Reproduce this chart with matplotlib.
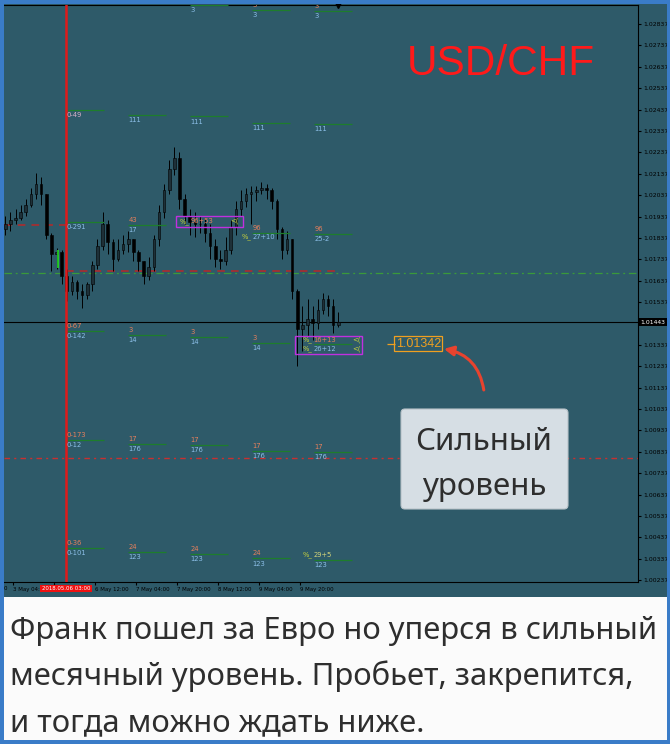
import matplotlib
matplotlib.use("Agg")
import matplotlib.pyplot as plt
import matplotlib.patches as mpatches
from matplotlib.transforms import blended_transform_factory

# ---------------- data ----------------
# 2-hour bars, x = hour index from the left edge of the chart
bar_x = list(range(1, 132, 2))
first_open = 1.0188
closes = [1.0190, 1.0192, 1.0193, 1.0196, 1.0199, 1.0204, 1.0209, 1.0204, 1.0185, 1.0176,
          1.0177, 1.0166, 1.0159, 1.0163, 1.0159, 1.0157, 1.0162, 1.0171, 1.0180, 1.0190,
          1.0182, 1.0174, 1.0178, 1.0181, 1.0183, 1.0177, 1.0173, 1.0166, 1.0170, 1.0183,
          1.0196, 1.0206, 1.0216, 1.0221, 1.0202, 1.0194, 1.0191, 1.0190, 1.0190, 1.0186,
          1.0180, 1.0174, 1.0173, 1.0178, 1.0189, 1.0197, 1.0201, 1.0204, 1.0205, 1.0206,
          1.0207, 1.0206, 1.0201, 1.0188, 1.0178, 1.0183, 1.0159, 1.0141, 1.0143, 1.0146,
          1.0144, 1.0150, 1.0155, 1.0152, 1.0143, 1.01443]
highs = [1.0194, 1.0196, 1.0197, 1.0199, 1.0202, 1.0207, 1.0214, 1.0212, 1.0204, 1.0186,
         1.0179, 1.0178, 1.0169, 1.0166, 1.0164, 1.0162, 1.0163, 1.0173, 1.0183, 1.0196,
         1.0192, 1.0183, 1.0183, 1.0185, 1.0187, 1.0183, 1.0178, 1.0173, 1.0175, 1.0185,
         1.0199, 1.0209, 1.0220, 1.0226, 1.0224, 1.0204, 1.0197, 1.0196, 1.0194, 1.0193,
         1.0190, 1.0183, 1.0178, 1.0184, 1.0192, 1.0201, 1.0206, 1.0207, 1.0208, 1.0208,
         1.0210, 1.0209, 1.0207, 1.0202, 1.0189, 1.0187, 1.0183, 1.0160, 1.0152, 1.0155,
         1.0152, 1.0155, 1.0158, 1.0157, 1.0155, 1.0149]
lows = [1.0185, 1.0187, 1.0190, 1.0192, 1.0194, 1.0198, 1.0202, 1.0199, 1.0183, 1.0168,
        1.0169, 1.0162, 1.0154, 1.0157, 1.0155, 1.0151, 1.0155, 1.0159, 1.0169, 1.0178,
        1.0176, 1.0168, 1.0173, 1.0176, 1.0177, 1.0173, 1.0168, 1.0162, 1.0164, 1.0168,
        1.0180, 1.0193, 1.0204, 1.0213, 1.0197, 1.0190, 1.0185, 1.0184, 1.0186, 1.0182,
        1.0174, 1.0170, 1.0169, 1.0171, 1.0176, 1.0185, 1.0194, 1.0198, 1.0190, 1.0201,
        1.0204, 1.0202, 1.0197, 1.0183, 1.0174, 1.0176, 1.0155, 1.0124, 1.0131, 1.0138,
        1.0136, 1.0141, 1.0148, 1.0147, 1.0139, 1.0142]

current_price = 1.01443
price_ticks = [1.00237, 1.00337, 1.00437, 1.00537, 1.00637, 1.00737, 1.00837, 1.00937,
               1.01037, 1.01137, 1.01237, 1.01337, 1.01537, 1.01637, 1.01737, 1.01837,
               1.01937, 1.02037, 1.02137, 1.02237, 1.02337, 1.02437, 1.02537, 1.02637,
               1.02737, 1.02837]
# first label is cut by the red time marker, second one is fully hidden under it
time_ticks = [4, 20, 36, 52, 68, 84, 100, 116]
time_labels = ['3 May 04:', '', '6 May 12:00', '7 May 04:00',
               '7 May 20:00', '8 May 12:00', '9 May 04:00', '9 May 20:00']
marker_time = 24.7
marker_label = '2018.05.06 03:00'

# daily level columns
col_x = [24.7, 48.9, 73.1, 97.3, 121.5]
levels = [
    [None, 1.02935, 1.02926, 1.02902, 1.02898],
    [1.02435, 1.02413, 1.02405, 1.02375, 1.02371],
    [1.01913, 1.01897, None, 1.01860, 1.01855],
    [1.01401, 1.01383, 1.01373, 1.01345, 1.01342],
    [1.00892, 1.00874, 1.00868, 1.00840, 1.00836],
    [1.00387, 1.00370, 1.00360, 1.00339, 1.00331],
]
upper_labels = [
    ['', '', '', '3', '3'],
    ['', '', '', '', ''],
    ['', '43', '', '96', '96'],
    ['0-67', '3', '3', '3', ''],
    ['0-173', '17', '17', '17', '17'],
    ['0-36', '24', '24', '24', ''],
]
lower_labels = [
    ['', '3', '3', '3', '3'],
    ['0-49', '111', '111', '111', '111'],
    ['0-291', '17', '17', '', '25-2'],
    ['0-142', '14', '14', '14', ''],
    ['0-12', '176', '176', '176', '176'],
    ['0-101', '123', '123', '123', '123'],
]
pct_x = [69.2, 93.4, 117.2, 117.2, 117.2]
pct_price = [1.01915, 1.01841, 1.01359, 1.01317, 1.00354]
pct_text = ['96+53', '27+10', '16+13', '26+12', '29+5']
pct_kind = ['up', 'low', 'up', 'low', 'pale']
box_x0 = [67.7, 114.1]
box_x1 = [93.8, 140.2]
box_lo = [1.01888, 1.01294]
box_hi = [1.01939, 1.01378]
box_arrow_x = [88.7, 136.3]
box_arrow_price = [[1.01915], [1.01359, 1.01317]]

green_dashdot = 1.01673
red_dash_left = 1.01897
red_dash_right = 1.01682
red_dashdot = 1.00808
signal_x, signal_lo, signal_hi = 21.6, 1.01696, 1.01780
strong_level = 1.01342

# ---------------- style ----------------
BG = '#2e5a69'
FRAME = '#3a7cc8'
RED_T = '#e8805c'
BLUE_T = '#8cbfe8'
YG = '#c8d23c'
GREEN_L = '#1e7d2c'
MAG = '#c030e0'
ORANGE = '#f0a020'
FS = 4.9

W, H = 670, 744
fig = plt.figure(figsize=(W / 100, H / 100), dpi=100)
fig.patch.set_facecolor(FRAME)

bg = fig.add_axes([0, 0, 1, 1], zorder=-1)
bg.set_xlim(0, W)
bg.set_ylim(H, 0)
bg.axis('off')
bg.add_patch(mpatches.Rectangle((4, 4), 663, 593, fc=BG, ec='none'))
bg.add_patch(mpatches.Rectangle((4, 597), 663, 143, fc='#fbfbfb', ec='none'))

ax = fig.add_axes([4 / W, 1 - 582 / H, 634 / W, 577 / H])
ax.set_facecolor(BG)
ax.set_xlim(0.5, 248)
ax.set_ylim(1.00228, 1.02926)
for s in ['top', 'right', 'bottom']:
    ax.spines[s].set_color('black')
    ax.spines[s].set_linewidth(0.8)
ax.spines['left'].set_visible(False)

# candles
opens = [first_open] + closes[:-1]
ax.vlines(bar_x, lows, highs, color='black', lw=0.7, zorder=3)
bodies = [max(abs(c - o), 0.00002) for o, c in zip(opens, closes)]
bottoms = [min(o, c) for o, c in zip(opens, closes)]
fcol = ['#1e3038' if c >= o else 'black' for o, c in zip(opens, closes)]
ax.bar(bar_x, bodies, bottom=bottoms, width=1.0, color=fcol, edgecolor='black',
       linewidth=0.4, zorder=3)
ax.vlines(signal_x, signal_lo, signal_hi, color='#22dd22', lw=1.2, zorder=4)

# horizontal lines
dash = (0, (5, 4))
dashdot = (0, (6, 3, 1.5, 3))
ax.axhline(current_price, color='black', lw=0.8, zorder=2)
ax.axhline(green_dashdot, color='#3a9a3a', lw=0.9, linestyle=dashdot, zorder=2)
ax.hlines(red_dash_left, 0.5, marker_time, color='#b82828', lw=1.1, linestyles=[dash], zorder=2)
ax.hlines(red_dash_right, marker_time, 131.5, color='#b82828', lw=1.1, linestyles=[dash], zorder=2)
ax.axhline(red_dashdot, color='#c83030', lw=1.0, linestyle=(0, (4, 3, 1.5, 3)), zorder=2)
ax.axvline(marker_time, color='#e01a1a', lw=1.8, zorder=5)

# level columns
for r, row in enumerate(levels):
    for c, lvl in enumerate(row):
        if lvl is None:
            continue
        x = col_x[c]
        ax.hlines(lvl, x, x + 15, color=GREEN_L, lw=0.9, zorder=4)
        up = upper_labels[r][c]
        lo = lower_labels[r][c]
        if up:
            ax.annotate(up, (x, lvl), xytext=(0.5, 3.6), textcoords='offset points',
                        fontsize=FS, color=RED_T, va='center', ha='left', clip_on=True, zorder=6)
        if lo:
            col = '#d8b0c8' if lo == '0-49' else BLUE_T
            ax.annotate(lo, (x, lvl), xytext=(0.5, -3.8), textcoords='offset points',
                        fontsize=FS, color=col, va='center', ha='left', clip_on=True, zorder=6)

# boxed signals
for x0, x1, lo, hi in zip(box_x0, box_x1, box_lo, box_hi):
    ax.add_patch(mpatches.Rectangle((x0, lo), x1 - x0, hi - lo, fc='none', ec=MAG,
                                    lw=1.0, zorder=7))
for bx, prices in zip(box_arrow_x, box_arrow_price):
    for p in prices:
        ax.text(bx, p, '<(', fontsize=FS, color=YG, va='center', ha='left', zorder=8)
kind_color = {'up': RED_T, 'low': BLUE_T, 'pale': '#d6d67a'}
for x, p, t, k in zip(pct_x, pct_price, pct_text, pct_kind):
    ax.text(x, p, '%_', fontsize=FS, color=YG, va='center', ha='left', zorder=8)
    ax.annotate(t, (x, p), xytext=(7.6, 0), textcoords='offset points', fontsize=FS,
                color=kind_color[k], va='center', ha='left', zorder=8)

# strong level label + arrow
ax.hlines(strong_level, 150.0, 153.0, color=ORANGE, lw=0.9, zorder=6)
ax.text(153.4, strong_level, '1.01342', fontsize=9, family='Liberation Sans', color=ORANGE,
        va='center', ha='left', zorder=6,
        bbox=dict(boxstyle='square,pad=0.12', fc='none', ec=ORANGE, lw=0.9))
ax.annotate('', xy=(172.2, 1.01318), xytext=(187.8, 1.01126),
            arrowprops=dict(arrowstyle='-|>', color='#e8432e', lw=2.2, mutation_scale=14,
                            connectionstyle='arc3,rad=0.35', shrinkA=0, shrinkB=0),
            zorder=6)

# axes ticks
ax.yaxis.tick_right()
ax.set_yticks(price_ticks)
ax.set_yticklabels([f'{p:.5f}' for p in price_ticks])
ax.tick_params(axis='y', labelsize=4.4, length=2, pad=1.5, colors='black')
ax.set_xticks(time_ticks)
ax.set_xticklabels(time_labels)
ax.tick_params(axis='x', labelsize=3.9, length=2, pad=1.5, colors='black')
for lab in ax.get_xticklabels():
    lab.set_ha('left')

yb = blended_transform_factory(ax.transAxes, ax.transData)
ax.text(1.004, current_price, f'{current_price:.5f}', transform=yb, fontsize=4.4,
        color='white', va='center', ha='left', clip_on=False, zorder=10,
        bbox=dict(boxstyle='square,pad=0.2', fc='black', ec='none'))
xb = blended_transform_factory(ax.transData, ax.transAxes)
ax.text(marker_time, -0.0115, marker_label, transform=xb, fontsize=3.9, color='white',
        va='center', ha='center', clip_on=False, zorder=10,
        bbox=dict(boxstyle='square,pad=0.25', fc='#ee1111', ec='none'))
ax.text(0.0, -0.0115, '0', transform=ax.transAxes, fontsize=3.9, color='black',
        va='center', ha='left', clip_on=False)
ax.plot([130.8], [1.0], marker='v', color='black', ms=4, transform=xb, clip_on=False,
        zorder=10)

# ---------------- overlay texts ----------------
ov = fig.add_axes([0, 0, 1, 1], zorder=5)
ov.set_xlim(0, W)
ov.set_ylim(H, 0)
ov.axis('off')
ov.patch.set_alpha(0)

ov.text(501, 75, 'USD/CHF', fontsize=30.5, family='Liberation Sans', color='#ff1a1a',
        ha='center', va='baseline')

ov.add_patch(mpatches.FancyBboxPatch((401, 409), 167, 100,
                                     boxstyle='round,pad=0,rounding_size=4',
                                     fc='#d6dee4', ec='#b8c2c8', lw=0.8))
ov.text(484, 450, 'Сильный', fontsize=22.5, family='Noto Sans', color='#2e2e2e',
        ha='center', va='baseline')
ov.text(484, 495, 'уровень', fontsize=22.5, family='Noto Sans', color='#2e2e2e',
        ha='center', va='baseline')

note_lines = ['Франк пошел за Евро но уперся в сильный',
              'месячный уровень. Пробьет, закрепится,',
              'и тогда можно ждать ниже.']
for i, line in enumerate(note_lines):
    ov.text(10, 639 + 46 * i, line, fontsize=22.3, family='Noto Sans', color='#2e2e2e',
            ha='left', va='baseline')

# blue frame on top
for rect in [(0, 0, 4, H), (667, 0, 3, H), (0, 0, W, 4), (0, 740, W, 4)]:
    ov.add_patch(mpatches.Rectangle(rect[:2], rect[2], rect[3], fc=FRAME, ec='none',
                                    zorder=10))

fig.savefig('out.png', dpi=100, facecolor=FRAME)
